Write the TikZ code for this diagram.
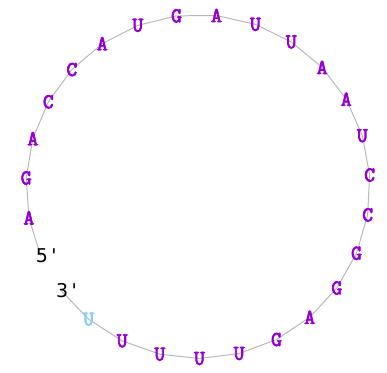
\documentclass[tikz,border=0pt]{standalone}
\usepackage{fontspec}
\usetikzlibrary{backgrounds}
\newfontfamily\ntfont{Latin Modern Mono}[FakeBold=3.5]
\newfontfamily\labfont{DejaVu Sans}
\definecolor{ntcol}{HTML}{9400D3}
\definecolor{ntlight}{HTML}{87CEFA}
\definecolor{bbcol}{HTML}{B8B8B8}
\tikzset{
  base/.style={inner sep=0pt, font=\ntfont\fontsize{21}{21}\selectfont, text=ntcol},
  baselight/.style={base, text=ntlight},
  endlabel/.style={inner sep=0pt, font=\labfont\fontsize{19}{19}\selectfont, text=black, xshift=5.5pt},
  backbone/.style={draw=bbcol, line width=1pt}
}
\begin{document}
\begin{tikzpicture}[x=1pt,y=-1pt]
\useasboundingbox (0,0) rectangle (387,372);
\def\cx{198}\def\cy{186.5}\def\rr{172}
\foreach \b [count=\k from 0] in {A,G,A,C,C,A,U,G,A,U,U,A,A,U,C,C,G,G,A,G,U,U,U,U} {
  \pgfmathsetmacro\ang{190.5-13.3333*\k}
  \node[base] (n\k) at ({\cx+\rr*cos(\ang)},{\cy-\rr*sin(\ang)}) {\b};
}
\pgfmathsetmacro\ang{190.5-13.3333*24}
\node[baselight] (n24) at ({\cx+\rr*cos(\ang)},{\cy-\rr*sin(\ang)}) {U};
\coordinate (c5) at ({\cx+\rr*cos(203.83)},{\cy-\rr*sin(203.83)});
\coordinate (c3) at ({\cx+\rr*cos(217.17)},{\cy-\rr*sin(217.17)});
\node[endlabel] (p5) at (c5) {5\kern3.5pt\textquotesingle};
\node[endlabel] (p3) at (c3) {3\kern3.5pt\textquotesingle};
\begin{scope}[on background layer]
  \draw[backbone] (c5) -- (n0.center);
  \foreach \i [evaluate=\i as \j using int(\i+1)] in {0,...,23} {
    \draw[backbone] (n\i.center) -- (n\j.center);
  }
  \draw[backbone] (n24.center) -- (c3);
\end{scope}
\end{tikzpicture}
\end{document}
